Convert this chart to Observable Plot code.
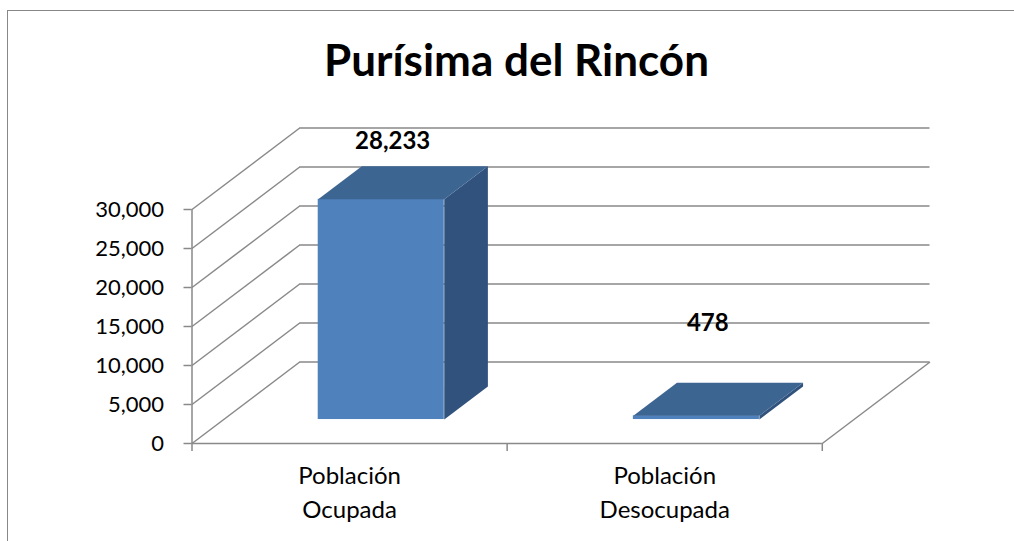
<!DOCTYPE html>
<html>
<head>
<meta charset="utf-8">
<script src="https://cdn.jsdelivr.net/npm/d3@7"></script>
<script src="https://cdn.jsdelivr.net/npm/@observablehq/plot@0.6"></script>
<style>
  html, body { margin: 0; padding: 0; background: #fff; }
  body { width: 1014px; height: 541px; overflow: hidden; position: relative; font-family: Lato, "Open Sans", sans-serif; }
  #frame { position: absolute; left: 7px; top: 10px; width: 2000px; height: 2000px;
           border-left: 1.5px solid #888; border-top: 1.5px solid #888; pointer-events: none; }
  #title { height: 100px; box-sizing: border-box; padding-top: 38px; padding-left: 19px;
           text-align: center; font: bold 44px/43px Lato, sans-serif; color: #000; }
  #chart svg { display: block; }
</style>
</head>
<body>
<div id="frame"></div>
<div id="title">Purísima del Rincón</div>
<div id="chart"></div>
<script>
// ---- data ----
const categories = ["Población Ocupada", "Población Desocupada"];
const categoryLabels = ["Población\nOcupada", "Población\nDesocupada"];
const values = [28233, 478];
const yTicks = [0, 5000, 10000, 15000, 20000, 25000, 30000];

// ---- 3-D layout (oblique projection, in data units) ----
const DX = 0.3418;      // depth offset along x (category units)
const DV = 10449;       // depth offset along y (value units)
const BAR_HALF = 0.2;   // half bar width (category units)
const D0 = 0.294;       // depth where bar front face sits (fraction)
const T = 0.405;        // bar depth thickness (fraction)
const LABEL_DEPTH = 0.40;
const minLabelLevel = 5000;

const FRONT = "#4F81BD", SIDE = "#30527C", TOP = "#3D6592";
const GRID = "#898989";

const bars = values.map((v, i) => {
  const x1 = i + 0.5 - BAR_HALF + D0 * DX, x2 = i + 0.5 + BAR_HALF + D0 * DX;
  const y1 = D0 * DV, y2 = v + D0 * DV;
  return {i, v, x1, x2, y1, y2, bx: T * DX, by: T * DV};
});
const sidePts = bars.flatMap(b => [
  {bar: b.i, x: b.x2, y: b.y1},
  {bar: b.i, x: b.x2, y: b.y2},
  {bar: b.i, x: b.x2 + b.bx, y: b.y2 + b.by},
  {bar: b.i, x: b.x2 + b.bx, y: b.y1 + b.by}
]);
const topPts = bars.flatMap(b => [
  {bar: b.i, x: b.x1, y: b.y2},
  {bar: b.i, x: b.x2, y: b.y2},
  {bar: b.i, x: b.x2 + b.bx, y: b.y2 + b.by},
  {bar: b.i, x: b.x1 + b.bx, y: b.y2 + b.by}
]);

const chart = Plot.plot({
  width: 1014,
  height: 441,
  marginLeft: 191.5,
  marginRight: 84.5,
  marginTop: 27.5,
  marginBottom: 98,
  style: {fontFamily: "Lato, sans-serif", fontSize: "22px", color: "#000", background: "transparent", overflow: "visible"},
  x: {domain: [0, categories.length + DX], axis: null},
  y: {domain: [0, 30000 + DV], axis: null},
  marks: [
    // back wall gridlines
    Plot.ruleY(yTicks, {y: d => d + DV, x1: DX, x2: categories.length + DX, stroke: GRID, strokeWidth: 1.5}),
    // left wall diagonals
    Plot.link(yTicks, {x1: 0, y1: d => d, x2: DX, y2: d => d + DV, stroke: GRID, strokeWidth: 1.5}),
    // floor right edge
    Plot.link([0], {x1: categories.length, y1: 0, x2: categories.length + DX, y2: DV, stroke: GRID, strokeWidth: 1.5}),
    // front axis lines
    Plot.ruleX([0], {y1: 0, y2: 30000, stroke: GRID, strokeWidth: 1.5}),
    Plot.ruleY([0], {x1: 0, x2: categories.length, stroke: GRID, strokeWidth: 1.5}),
    Plot.axisY({ticks: yTicks, tickFormat: d3.format(","), tickSize: 8, tickPadding: 20, stroke: GRID, strokeWidth: 1.5, label: null}),
    Plot.axisX({ticks: d3.range(categories.length + 1), tickFormat: () => "", tickSize: 8, stroke: GRID, strokeWidth: 1.5, label: null}),
    // bars
    Plot.rect(bars, {x1: "x1", x2: "x2", y1: "y1", y2: "y2", fill: FRONT}),
    Plot.line(sidePts, {x: "x", y: "y", z: "bar", fill: SIDE, stroke: "none"}),
    Plot.line(topPts, {x: "x", y: "y", z: "bar", fill: TOP, stroke: "none"}),
    // data labels
    Plot.text(values, {x: (d, i) => i + 0.5 + LABEL_DEPTH * DX, y: d => Math.max(d, minLabelLevel) + DV,
      text: d => d3.format(",")(d), fontWeight: "bold", fontSize: 24, fill: "#000"}),
    // category labels
    Plot.text(categoryLabels, {x: (d, i) => i + 0.5, y: 0, text: d => d, dy: 47, lineHeight: 1.417, fontSize: 24, fill: "#000"})
  ]
});
document.getElementById("chart").appendChild(chart);
</script>
</body>
</html>
